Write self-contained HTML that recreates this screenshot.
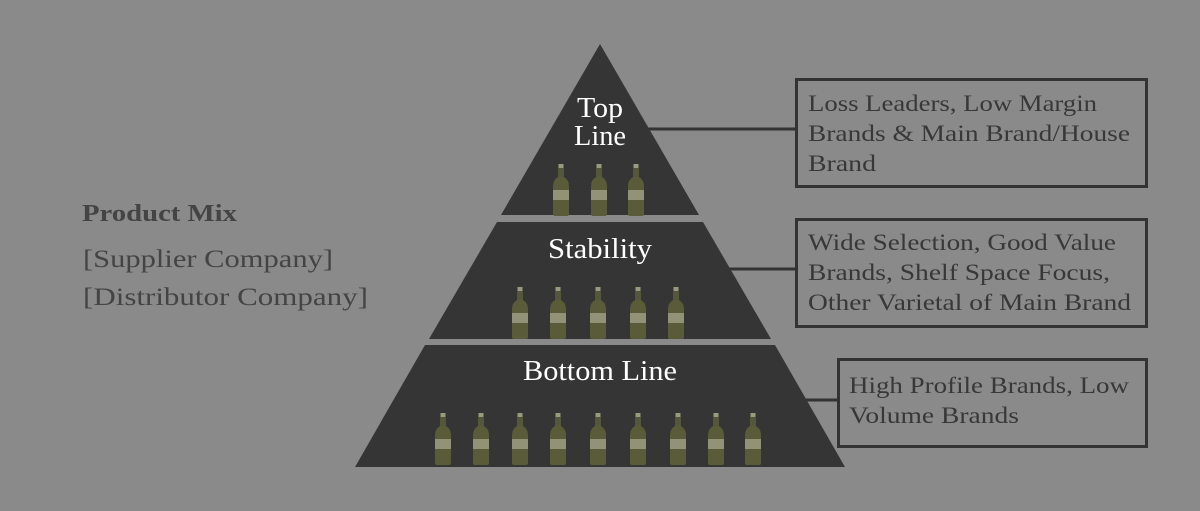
<!DOCTYPE html>
<html><head><meta charset="utf-8"><style>
html,body{margin:0;padding:0;background:#8a8a8a;}
svg{display:block}
</style></head><body>
<svg width="1200" height="511" viewBox="0 0 1200 511" xmlns="http://www.w3.org/2000/svg">
<defs>
<g id="b">
<rect x="-2.5" y="0" width="5" height="4" fill="#9a9a80"/>
<rect x="-3" y="4" width="6" height="10" rx="1" fill="#55573a"/>
<path d="M-3 13 Q-8 16 -8 22 L-8 50 Q-8 52 -6 52 L6 52 Q8 52 8 50 L8 22 Q8 16 3 13 Z" fill="#5a5b38"/>
<rect x="-8" y="26" width="16" height="10" fill="#929277"/>
</g>
</defs>
<rect width="1200" height="511" fill="#8a8a8a"/>
<g stroke="#333" stroke-width="3">
<line x1="640" y1="129" x2="797" y2="129"/>
<line x1="720" y1="269" x2="796" y2="269"/>
<line x1="790" y1="400" x2="839" y2="400"/>
</g>
<polygon points="600,44 699,215 501,215" fill="#353535"/>
<polygon points="497,222 703,222 771,339 429,339" fill="#353535"/>
<polygon points="425,345 775,345 845,467 355,467" fill="#353535"/>
<g font-family="Liberation Serif, serif" fill="#fff" font-size="28" text-anchor="middle">
<text x="600" y="117" textLength="46" lengthAdjust="spacingAndGlyphs">Top</text>
<text x="600" y="145" textLength="52" lengthAdjust="spacingAndGlyphs">Line</text>
<text x="600" y="258" textLength="104" lengthAdjust="spacingAndGlyphs">Stability</text>
<text x="600" y="380" textLength="154" lengthAdjust="spacingAndGlyphs">Bottom Line</text>
</g>
<g>
<use href="#b" x="561" y="164"/><use href="#b" x="599" y="164"/><use href="#b" x="636" y="164"/>
<use href="#b" x="520" y="287"/><use href="#b" x="558" y="287"/><use href="#b" x="598" y="287"/><use href="#b" x="638" y="287"/><use href="#b" x="676" y="287"/>
<use href="#b" x="443" y="413"/><use href="#b" x="481" y="413"/><use href="#b" x="520" y="413"/><use href="#b" x="558" y="413"/><use href="#b" x="598" y="413"/><use href="#b" x="638" y="413"/><use href="#b" x="678" y="413"/><use href="#b" x="716" y="413"/><use href="#b" x="753" y="413"/>
</g>
<g fill="none" stroke="#333" stroke-width="3">
<rect x="796.5" y="79.5" width="350" height="107"/>
<rect x="796.5" y="219.5" width="350" height="107"/>
<rect x="838.5" y="359.5" width="308" height="87"/>
</g>
<g font-family="Liberation Serif, serif" fill="#383838" font-size="23">
<text x="808" y="111" textLength="289" lengthAdjust="spacingAndGlyphs">Loss Leaders, Low Margin</text>
<text x="808" y="141" textLength="322" lengthAdjust="spacingAndGlyphs">Brands &amp; Main Brand/House</text>
<text x="808" y="171" textLength="68" lengthAdjust="spacingAndGlyphs">Brand</text>
<text x="808" y="250" textLength="308" lengthAdjust="spacingAndGlyphs">Wide Selection, Good Value</text>
<text x="808" y="280" textLength="302" lengthAdjust="spacingAndGlyphs">Brands, Shelf Space Focus,</text>
<text x="808" y="310" textLength="323" lengthAdjust="spacingAndGlyphs">Other Varietal of Main Brand</text>
<text x="849" y="393" textLength="280" lengthAdjust="spacingAndGlyphs">High Profile Brands, Low</text>
<text x="849" y="423" textLength="170" lengthAdjust="spacingAndGlyphs">Volume Brands</text>
</g>
<g font-family="Liberation Serif, serif" fill="#444">
<text x="82" y="221" font-size="24" font-weight="bold" textLength="155" lengthAdjust="spacingAndGlyphs">Product Mix</text>
<text x="83" y="267" font-size="25" textLength="250" lengthAdjust="spacingAndGlyphs">[Supplier Company]</text>
<text x="83" y="305" font-size="25" textLength="285" lengthAdjust="spacingAndGlyphs">[Distributor Company]</text>
</g>
</svg>
</body></html>
